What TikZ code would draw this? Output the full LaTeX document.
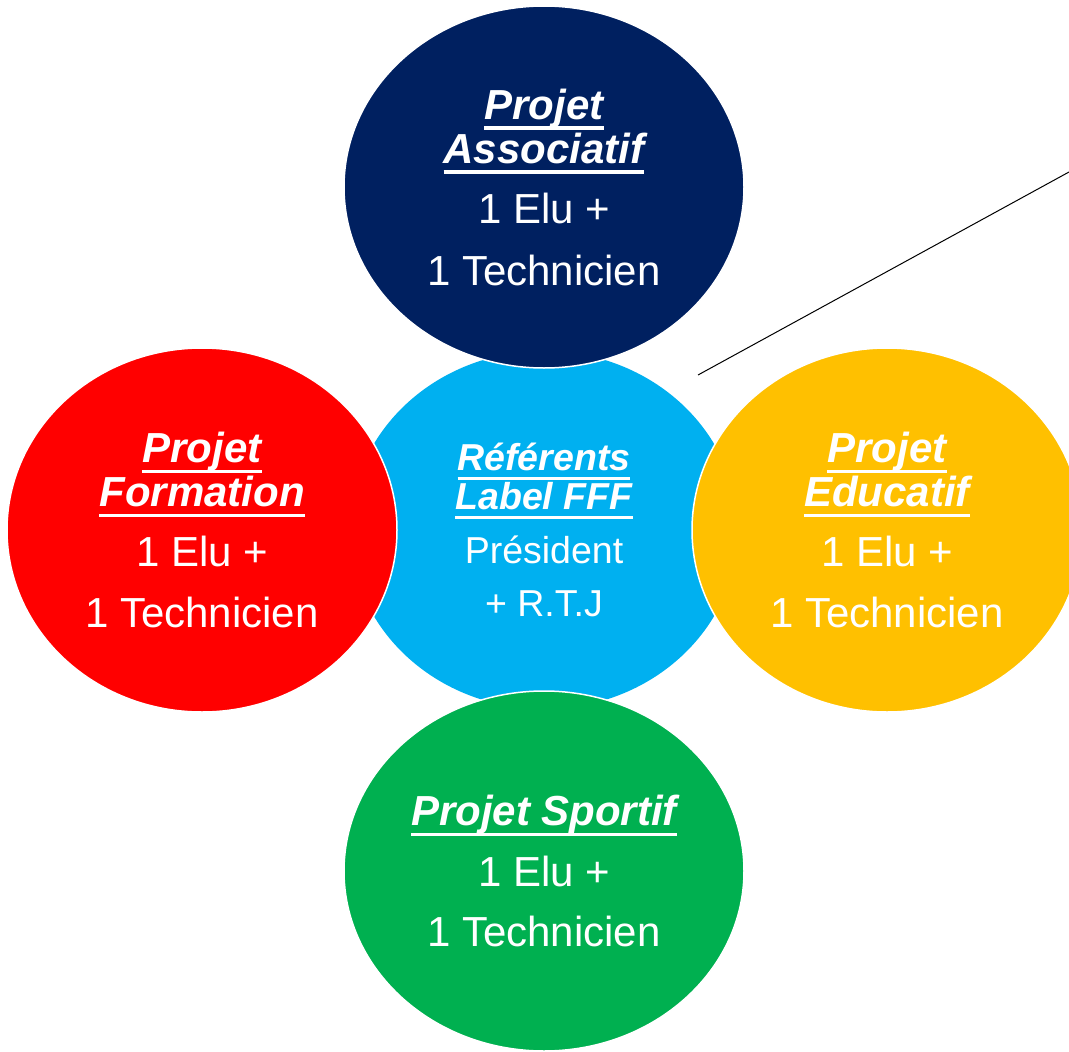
\documentclass[tikz,border=0pt]{standalone}
\usepackage{fontspec}
\setmainfont{Liberation Sans}
\usetikzlibrary{shapes.geometric}

\definecolor{assocblue}{HTML}{002060}
\definecolor{formred}{HTML}{FF0000}
\definecolor{educyellow}{HTML}{FFC000}
\definecolor{sportgreen}{HTML}{00B050}
\definecolor{refblue}{HTML}{00B0F0}

\newsavebox{\titlebox}
\newcommand{\projtitle}[1]{{\bfseries\itshape\sbox{\titlebox}{#1}\rlap{\rule[-0.26em]{\wd\titlebox}{0.085em}}\usebox{\titlebox}}}

\begin{document}
\begin{tikzpicture}[
    x=1pt, y=-1pt,
    project/.style={ellipse, draw=white, line width=1.5pt, inner sep=0pt,
        text=white, align=center, font=\fontsize{42}{44}\selectfont},
    referent/.style={ellipse, inner sep=0pt, text=white, align=center,
        font=\fontsize{37.5}{39}\selectfont}
]
    \useasboundingbox (0,0) rectangle (1069,1052);

    \node[referent, fill=refblue, minimum width=388pt, minimum height=358pt] at (544,530) (ref)
        {\projtitle{Référents}\\\projtitle{Label FFF}\\[15pt]Président\\[14pt]+ R.T.J};

    \node[project, fill=assocblue, minimum width=400pt, minimum height=362pt] at (544,187) (assoc)
        {\projtitle{Projet}\\\projtitle{Associatif}\\[16pt]1 Elu +\\[18pt]1 Technicien};
    \node[project, fill=formred, minimum width=390pt, minimum height=364pt] at (202,530) (form)
        {\projtitle{Projet}\\\projtitle{Formation}\\[16pt]1 Elu +\\[17pt]1 Technicien};
    \node[project, fill=educyellow, minimum width=390pt, minimum height=364pt] at (887,530) (educ)
        {\projtitle{Projet}\\\projtitle{Educatif}\\[16pt]1 Elu +\\[17pt]1 Technicien};
    \node[project, fill=sportgreen, minimum width=400pt, minimum height=360pt] at (544,871) (sport)
        {\projtitle{Projet Sportif}\\[17pt]1 Elu +\\[16pt]1 Technicien};

    \coordinate (lineA) at (698,375);
    \coordinate (lineB) at (1069,172);
    \draw[line width=1pt] (lineA) -- (lineB);
\end{tikzpicture}
\end{document}
